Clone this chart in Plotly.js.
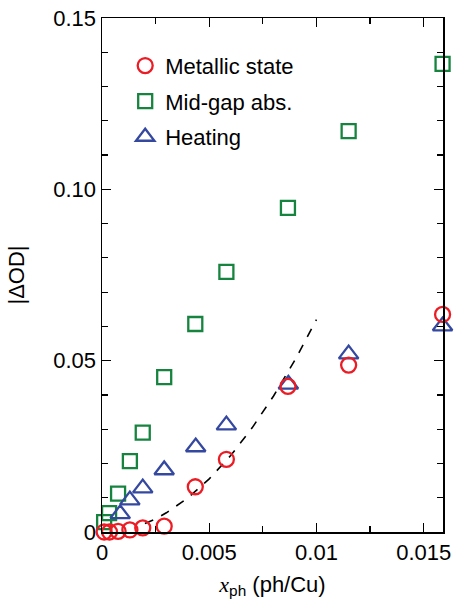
<!DOCTYPE html>
<html>
<head>
<meta charset="utf-8">
<script src="https://cdn.plot.ly/plotly-3.0.1.min.js"></script>
<style>html,body{margin:0;padding:0;background:#fff;}#chart{width:455px;height:601px;}</style>
</head>
<body>
<div id="chart"></div>
<script>
// Data
const xMetallic = [0.0001, 0.00035, 0.00075, 0.0013, 0.0019, 0.0029, 0.00435, 0.0058, 0.00867, 0.0115, 0.01588];
const yMetallic = [0.0000, 0.0000, 0.0002, 0.0006, 0.0012, 0.0017, 0.0132, 0.0212, 0.0425, 0.0487, 0.0635];

const xMidgap = [0.0001, 0.00033, 0.00075, 0.0013, 0.0019, 0.0029, 0.00435, 0.0058, 0.00867, 0.0115, 0.01588];
const yMidgap = [0.0029, 0.0055, 0.0112, 0.0207, 0.0290, 0.0452, 0.0607, 0.0759, 0.0946, 0.1170, 0.1366];

const xHeating = [0.00085, 0.0013, 0.0019, 0.0029, 0.00437, 0.0058, 0.00869, 0.0115, 0.01588];
const yHeating = [0.0053, 0.0093, 0.0128, 0.0181, 0.0248, 0.0312, 0.0431, 0.0519, 0.0601];

const xCurve = [0.0020, 0.0025, 0.0030, 0.0040, 0.0050, 0.0060, 0.0070, 0.0080, 0.0090, 0.0100];
const yCurve = [0.0025, 0.0038, 0.0056, 0.0099, 0.0155, 0.0223, 0.0304, 0.0397, 0.0502, 0.0620];

const xTickVals = [0, 0.005, 0.01, 0.015];
const xTickText = ["0", "0.005", "0.01", "0.015"];
const yTickVals = [0, 0.05, 0.10, 0.15];
const yTickText = ["0", "0.05", "0.10", "0.15"];

const seriesNames = ["Metallic state", "Mid-gap abs.", "Heating"];

const RED = "rgb(236,28,36)", GREEN = "rgb(22,132,62)", BLUE = "rgb(52,72,160)";
const FONT = "'Liberation Sans', Arial, Helvetica, sans-serif";

const traces = [
  {x: xCurve, y: yCurve, mode: "lines", line: {color: "black", width: 1.6, dash: "dash"},
   showlegend: false, hoverinfo: "skip", cliponaxis: false},
  {x: xMidgap, y: yMidgap, mode: "markers", name: seriesNames[1], legendrank: 2, legendgroup: "b",
   marker: {symbol: "square-open", size: 14, color: GREEN, line: {width: 2.3, color: GREEN}}, cliponaxis: false},
  {x: xHeating, y: yHeating, mode: "markers", name: seriesNames[2], legendrank: 3, legendgroup: "c",
   marker: {symbol: "triangle-up-open", size: 17, color: BLUE, line: {width: 2.3, color: BLUE}}, cliponaxis: false},
  {x: xMetallic, y: yMetallic, mode: "markers", name: seriesNames[0], legendrank: 1, legendgroup: "a",
   marker: {symbol: "circle-open", size: 15, color: RED, line: {width: 2.3, color: RED}}, cliponaxis: false}
];

const axisCommon = {
  showline: true, linecolor: "black", linewidth: 1.5, mirror: "ticks",
  ticks: "inside", ticklen: 9, tickwidth: 1.3, tickcolor: "black",
  showgrid: false, zeroline: false,
  tickfont: {family: FONT, size: 22, color: "black"}
};

const layout = {
  width: 455, height: 601,
  margin: {l: 101.5, r: 12, t: 18, b: 69},
  paper_bgcolor: "white", plot_bgcolor: "white",
  font: {family: FONT, color: "black"},
  showlegend: true,
  legend: {x: 0.068, y: 0.948, xanchor: "left", yanchor: "top", bgcolor: "rgba(0,0,0,0)",
           font: {family: FONT, size: 22, color: "black"}, tracegroupgap: 4, traceorder: "grouped"},
  xaxis: Object.assign({}, axisCommon, {
    range: [0, 0.0159], tickmode: "array", tickvals: xTickVals, ticktext: xTickText,
    minor: {dtick: 0.0025, tick0: 0, ticks: "inside", ticklen: 6, tickwidth: 1.2, tickcolor: "black", showgrid: false},
    title: {text: "<span style=\"font-family:'Liberation Serif','Times New Roman',serif\"><i>x</i></span><sub>ph</sub> (ph/Cu)",
            font: {family: FONT, size: 22, color: "black"}, standoff: 12}
  }),
  yaxis: Object.assign({}, axisCommon, {
    range: [0, 0.15], tickmode: "array", tickvals: yTickVals, ticktext: yTickText,
    minor: {dtick: 0.01, tick0: 0, ticks: "inside", ticklen: 6, tickwidth: 1.2, tickcolor: "black", showgrid: false},
    title: {text: "|ΔOD|", font: {family: FONT, size: 22, color: "black"}, standoff: 22}
  })
};

Plotly.newPlot("chart", traces, layout, {staticPlot: true, displayModeBar: false});
</script>
</body>
</html>
